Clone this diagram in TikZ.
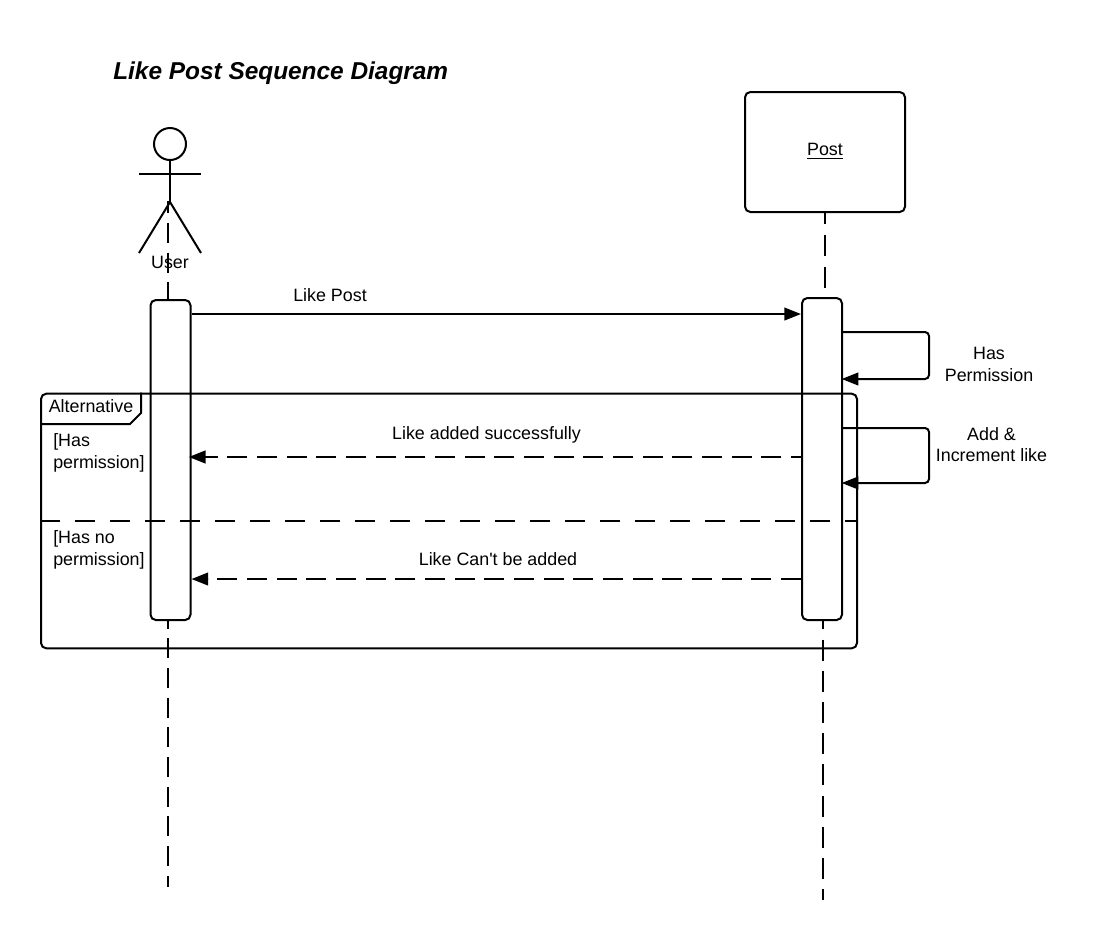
\documentclass[tikz,border=0pt]{standalone}
\usepackage{fontspec}
\setmainfont{Liberation Sans}
\newfontfamily\plainfont{Liberation Sans}
\usepackage{tikz}
\usetikzlibrary{positioning}
\usetikzlibrary{arrows.meta}
\tikzset{
	px/.style={x=.75pt,y=-.75pt},
	ln/.style={line width=1.5pt},
	msg/.style={ln,-{Triangle[length=12.5pt,width=9.5pt]}},
	reply/.style={msg,dash pattern=on 15pt off 7.25pt},
	lifeline/.style={ln,dash pattern=on 15pt off 7.25pt},
	bar/.style={draw,ln,fill=white,rounded corners=4pt,minimum width=30pt,inner sep=0pt},
	txt/.style={font=\fontsize{13.4pt}{16.2pt}\selectfont,inner sep=0pt,align=center}
}
\begin{document}
\begin{tikzpicture}[px]
	\useasboundingbox (0,0) rectangle (1094,940);
	\node [txt,font=\fontsize{18.3pt}{22pt}\selectfont\bfseries\itshape,anchor=west] at (113,73.5) (title) {Like Post Sequence Diagram};
	% user figure
	\node [draw,ln,circle,minimum size=24pt,inner sep=0pt] at (170,144) (userhead) {};
	\coordinate (hip) at (170,202); \coordinate (armL) at (139,174); \coordinate (armR) at (201,174);
	\coordinate (legL) at (139,253); \coordinate (legR) at (201,253);
	\draw [ln] (userhead.south)--(hip); \draw [ln] (armL)--(armR); \draw [ln] (legL)--(hip)--(legR);
	\coordinate (userend) at (168,887); \coordinate (usertop) at (168,201);
	\draw [lifeline,dash phase=5.7pt] (usertop)--(userend);
	\node [txt] at (170,262) (userlabel) {User};
	% post box
	\node [draw,ln,fill=white,rounded corners=4pt,minimum width=120pt,minimum height=90pt,inner sep=0pt] at (825,152) (postbox) {};
	\node [txt] at (825,151) (postlabel) {\underline{Post}};
	% bars
	\node [bar,minimum height=240pt] at (170.5,460) (userbar) {};
	\node [bar,minimum height=241.5pt] at (822,459) (postbar) {};
	\coordinate (posttop) at (824.7,298); \coordinate (postlow) at (823,620); \coordinate (postend) at (823,900);
	\draw [ln,dash pattern=on 16pt off 8pt,dash phase=7.5pt] (postbox.south -| posttop)--(posttop);
	\draw [ln,dash pattern=on 15.75pt off 7.65pt,dash phase=8.7pt] (postlow)--(postend);
	% messages
	\draw [msg] (userbar.east |- 0,314)--(postbar.west |- 0,314);
	\node [txt] at (330,295) (likepost) {Like Post};
	\draw [msg,rounded corners=3pt,shorten >=-1pt] (postbar.east |- 0,332)--(929,332)--(929,379)--(postbar.east |- 0,379);
	\node [txt] at (989,364.5) (haspermission) {Has\\Permission};
	\draw [msg,rounded corners=3pt,shorten >=-1pt] (postbar.east |- 0,428)--(929,428)--(929,483)--(postbar.east |- 0,483);
	\node [txt] at (991.5,444.5) (addincrement) {Add \&\\Increment like};
	\draw [reply,dash phase=7.5pt,shorten >=-2pt] (postbar.west |- 0,457)--(userbar.east |- 0,457);
	\node [txt] at (486.5,435) (addedok) {Like added successfully};
	\draw [reply] (postbar.west |- 0,579)--(userbar.east |- 0,579);
	\node [txt] at (498,559.5) (addedno) {Like Can{\plainfont '}t be added};
	% alternative frame
	\node [draw,ln,rounded corners=4pt,minimum width=612pt,minimum height=191pt,inner sep=0pt] at (449,521) (altframe) {};
	\draw [ln] (altframe.north west -| 141,0) -- (141,413) -- (130,424) -- (altframe.west |- 0,424);
	\node [txt] at (91,406.5) (altlabel) {Alternative};
	\draw [ln,dash pattern=on 15pt off 11.25pt] (altframe.west)--(altframe.east);
	\node [txt,align=left,anchor=west] at (53,453) (guardyes) {[Has\\permission]};
	\node [txt,align=left,anchor=west] at (53,550) (guardno) {[Has no\\permission]};
\end{tikzpicture}
\end{document}
